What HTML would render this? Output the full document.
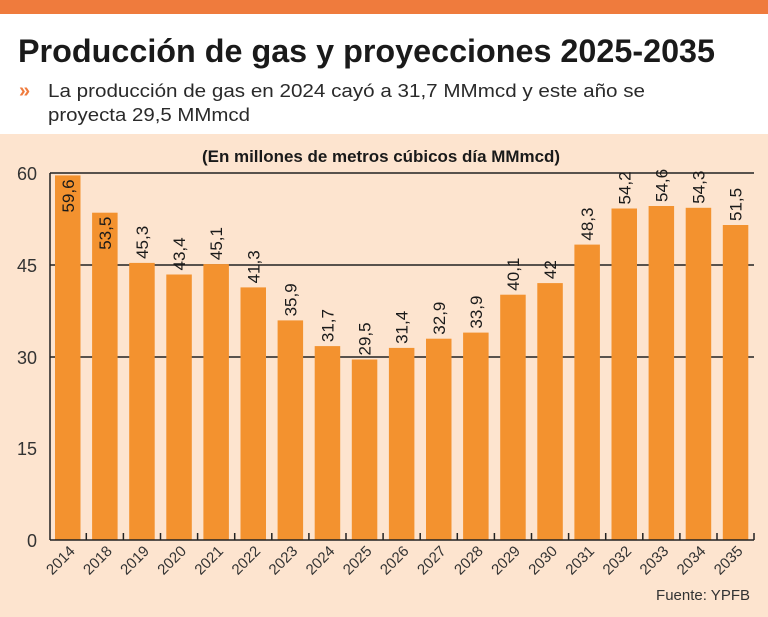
<!DOCTYPE html>
<html><head><meta charset="utf-8"><style>
body{margin:0;width:768px;height:617px;overflow:hidden;background:#fde4cf;font-family:"Liberation Sans",sans-serif}
svg{display:block}
</style></head><body>
<svg width="768" height="617" xmlns="http://www.w3.org/2000/svg">
<rect x="0" y="0" width="768" height="617" fill="#fde4cf"/>
<rect x="0" y="0" width="768" height="134" fill="#ffffff"/>
<rect x="0" y="0" width="768" height="14" fill="#ef7b3d"/>
<text x="18" y="62" font-size="32" font-weight="bold" fill="#1a1a1a" textLength="697" lengthAdjust="spacingAndGlyphs">Producción de gas y proyecciones 2025-2035</text>
<text x="19" y="97" font-size="20" font-weight="bold" fill="#ef7b3d">»</text>
<text x="48" y="97" font-size="18" fill="#2a2a2a" textLength="597" lengthAdjust="spacingAndGlyphs">La producción de gas en 2024 cayó a 31,7 MMmcd y este año se</text>
<text x="48" y="121" font-size="18" fill="#2a2a2a" textLength="202" lengthAdjust="spacingAndGlyphs">proyecta 29,5 MMmcd</text>
<text x="202" y="162" font-size="17" font-weight="bold" fill="#1a1a1a" textLength="358" lengthAdjust="spacingAndGlyphs">(En millones de metros cúbicos día MMmcd)</text>
<g font-size="18" fill="#333" text-anchor="end">
<text x="37" y="180">60</text><text x="37" y="272">45</text><text x="37" y="364">30</text><text x="37" y="455">15</text><text x="37" y="547">0</text>
</g>
<g stroke="#222" stroke-width="1.5">
<line x1="50" y1="173" x2="754" y2="173"/>
<line x1="50" y1="265" x2="754" y2="265"/>
<line x1="50" y1="357" x2="754" y2="357"/>
</g>
<g fill="#f3922f">
<rect x="55" y="175.4" width="25.5" height="364.6"/>
<rect x="92.1" y="212.7" width="25.5" height="327.3"/>
<rect x="129.2" y="262.9" width="25.5" height="277.1"/>
<rect x="166.3" y="274.5" width="25.5" height="265.5"/>
<rect x="203.4" y="264.1" width="25.5" height="275.9"/>
<rect x="240.5" y="287.4" width="25.5" height="252.6"/>
<rect x="277.6" y="320.4" width="25.5" height="219.6"/>
<rect x="314.7" y="346.1" width="25.5" height="193.9"/>
<rect x="351.8" y="359.5" width="25.5" height="180.5"/>
<rect x="388.9" y="347.9" width="25.5" height="192.1"/>
<rect x="426" y="338.7" width="25.5" height="201.3"/>
<rect x="463.1" y="332.6" width="25.5" height="207.4"/>
<rect x="500.2" y="294.7" width="25.5" height="245.3"/>
<rect x="537.3" y="283.1" width="25.5" height="256.9"/>
<rect x="574.4" y="244.6" width="25.5" height="295.4"/>
<rect x="611.5" y="208.5" width="25.5" height="331.5"/>
<rect x="648.6" y="206" width="25.5" height="334"/>
<rect x="685.7" y="207.8" width="25.5" height="332.2"/>
<rect x="722.8" y="225" width="25.5" height="315"/>
</g>
<g stroke="#222" stroke-width="1.5">
<line x1="50" y1="173" x2="50" y2="540"/>
<line x1="50" y1="540" x2="754" y2="540"/>
<line x1="754" y1="533" x2="754" y2="540"/>
<line x1="86.3" y1="533" x2="86.3" y2="540"/>
<line x1="123.4" y1="533" x2="123.4" y2="540"/>
<line x1="160.5" y1="533" x2="160.5" y2="540"/>
<line x1="197.6" y1="533" x2="197.6" y2="540"/>
<line x1="234.7" y1="533" x2="234.7" y2="540"/>
<line x1="271.8" y1="533" x2="271.8" y2="540"/>
<line x1="308.9" y1="533" x2="308.9" y2="540"/>
<line x1="346" y1="533" x2="346" y2="540"/>
<line x1="383.1" y1="533" x2="383.1" y2="540"/>
<line x1="420.2" y1="533" x2="420.2" y2="540"/>
<line x1="457.3" y1="533" x2="457.3" y2="540"/>
<line x1="494.4" y1="533" x2="494.4" y2="540"/>
<line x1="531.5" y1="533" x2="531.5" y2="540"/>
<line x1="568.6" y1="533" x2="568.6" y2="540"/>
<line x1="605.7" y1="533" x2="605.7" y2="540"/>
<line x1="642.8" y1="533" x2="642.8" y2="540"/>
<line x1="679.9" y1="533" x2="679.9" y2="540"/>
<line x1="717" y1="533" x2="717" y2="540"/>
</g>
<g font-size="17" fill="#1a1a1a">
<text transform="translate(73.8,179.4) rotate(-90)" text-anchor="end">59,6</text>
<text transform="translate(110.9,216.7) rotate(-90)" text-anchor="end">53,5</text>
<text transform="translate(148,258.9) rotate(-90)">45,3</text>
<text transform="translate(185.1,270.5) rotate(-90)">43,4</text>
<text transform="translate(222.2,260.1) rotate(-90)">45,1</text>
<text transform="translate(259.3,283.4) rotate(-90)">41,3</text>
<text transform="translate(296.4,316.4) rotate(-90)">35,9</text>
<text transform="translate(333.5,342.1) rotate(-90)">31,7</text>
<text transform="translate(370.6,355.5) rotate(-90)">29,5</text>
<text transform="translate(407.7,343.9) rotate(-90)">31,4</text>
<text transform="translate(444.8,334.7) rotate(-90)">32,9</text>
<text transform="translate(481.9,328.6) rotate(-90)">33,9</text>
<text transform="translate(519,290.7) rotate(-90)">40,1</text>
<text transform="translate(556.1,279.1) rotate(-90)">42</text>
<text transform="translate(593.2,240.6) rotate(-90)">48,3</text>
<text transform="translate(630.3,204.5) rotate(-90)">54,2</text>
<text transform="translate(667.4,202) rotate(-90)">54,6</text>
<text transform="translate(704.5,203.8) rotate(-90)">54,3</text>
<text transform="translate(741.6,221) rotate(-90)">51,5</text>
</g>
<g font-size="15" fill="#333" text-anchor="end">
<text transform="translate(75.8,552) rotate(-45)">2014</text>
<text transform="translate(112.9,552) rotate(-45)">2018</text>
<text transform="translate(150,552) rotate(-45)">2019</text>
<text transform="translate(187.1,552) rotate(-45)">2020</text>
<text transform="translate(224.2,552) rotate(-45)">2021</text>
<text transform="translate(261.3,552) rotate(-45)">2022</text>
<text transform="translate(298.4,552) rotate(-45)">2023</text>
<text transform="translate(335.5,552) rotate(-45)">2024</text>
<text transform="translate(372.6,552) rotate(-45)">2025</text>
<text transform="translate(409.7,552) rotate(-45)">2026</text>
<text transform="translate(446.8,552) rotate(-45)">2027</text>
<text transform="translate(483.9,552) rotate(-45)">2028</text>
<text transform="translate(521,552) rotate(-45)">2029</text>
<text transform="translate(558.1,552) rotate(-45)">2030</text>
<text transform="translate(595.2,552) rotate(-45)">2031</text>
<text transform="translate(632.3,552) rotate(-45)">2032</text>
<text transform="translate(669.4,552) rotate(-45)">2033</text>
<text transform="translate(706.5,552) rotate(-45)">2034</text>
<text transform="translate(743.6,552) rotate(-45)">2035</text>
</g>
<text x="750" y="600" font-size="15" fill="#333" text-anchor="end">Fuente: YPFB</text>
</svg>
</body></html>
